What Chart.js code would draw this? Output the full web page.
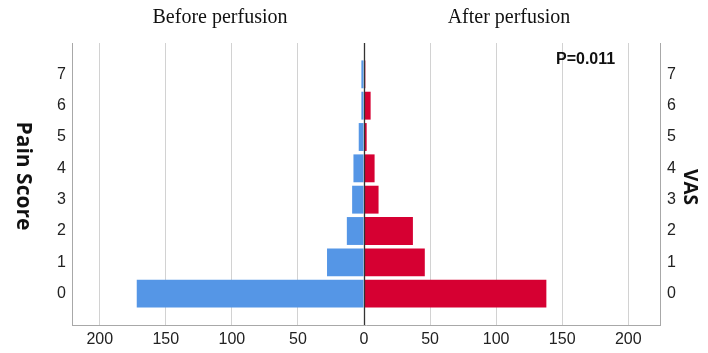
<!DOCTYPE html>
<html>
<head>
<meta charset="utf-8">
<script src="https://cdn.jsdelivr.net/npm/chart.js@4/dist/chart.umd.min.js"></script>
<style>
html,body{margin:0;padding:0;background:#fff;}
canvas{display:block;}
</style>
</head>
<body>
<canvas id="c" width="708" height="353"></canvas>
<script>
// Data (pain score 0..7)
const painScores = ['0','1','2','3','4','5','6','7'];
const beforeCounts = [172, 28, 13, 9, 8, 4, 2, 2];
const afterCounts = [138, 46, 37, 11, 8, 2, 5, 1];
const xTickValues = [-200, -150, -100, -50, 0, 50, 100, 150, 200];
const leftTitle = 'Before perfusion';
const rightTitle = 'After perfusion';
const pText = 'P=0.011';
const yTitleLeft = 'Pain Score';
const yTitleRight = 'VAS';

// rows from top to bottom, with an empty slot above and below
const rowLabels = ['', ...painScores.slice().reverse(), ''];
const beforeRows = [null, ...beforeCounts.slice().reverse().map(v => -v), null];
const afterRows = [null, ...afterCounts.slice().reverse(), null];

const textPlugin = {
  id: 'texts',
  afterDatasetsDraw(chart) {
    const ctx = chart.ctx;
    const area = chart.chartArea;
    const x0 = chart.scales.x.getPixelForValue(0);
    ctx.save();
    ctx.strokeStyle = '#333';
    ctx.lineWidth = 1.3;
    ctx.beginPath();
    ctx.moveTo(Math.round(x0) + 0.5, area.top);
    ctx.lineTo(Math.round(x0) + 0.5, area.bottom);
    ctx.stroke();
    ctx.restore();
  },
  afterDraw(chart) {
    const ctx = chart.ctx;
    ctx.save();
    ctx.fillStyle = '#111';
    ctx.font = '20px "Liberation Serif", "Times New Roman", serif';
    ctx.textAlign = 'center';
    ctx.textBaseline = 'alphabetic';
    ctx.fillText(leftTitle, 220, 23);
    ctx.fillText(rightTitle, 509, 23);

    ctx.font = 'bold 16px "Liberation Sans", Arial, sans-serif';
    ctx.textAlign = 'left';
    ctx.fillText(pText, 556, 64);

    ctx.textAlign = 'center';
    ctx.textBaseline = 'middle';
    ctx.save();
    ctx.font = 'bold 21px "Open Sans", sans-serif';
    ctx.translate(23, 176);
    ctx.rotate(Math.PI / 2);
    ctx.fillText(yTitleLeft, 0, 0);
    ctx.restore();
    ctx.save();
    ctx.font = 'bold 19px "Open Sans", sans-serif';
    ctx.translate(689, 187);
    ctx.rotate(Math.PI / 2);
    ctx.fillText(yTitleRight, 0, 0);
    ctx.restore();
    ctx.restore();
  }
};

const tickFont = {family: '"Liberation Sans", Arial, sans-serif', size: 16};

new Chart(document.getElementById('c'), {
  type: 'bar',
  data: {
    labels: rowLabels,
    datasets: [
      {label: 'Before', data: beforeRows, backgroundColor: '#5596E6', borderWidth: 0,
       barPercentage: 0.89, categoryPercentage: 1.0},
      {label: 'After', data: afterRows, backgroundColor: '#D60032', borderWidth: 0,
       barPercentage: 0.89, categoryPercentage: 1.0}
    ]
  },
  options: {
    indexAxis: 'y',
    responsive: false,
    animation: false,
    layout: {padding: {top: 43, left: 0, right: 0, bottom: 0}},
    plugins: {legend: {display: false}, tooltip: {enabled: false}, title: {display: false}},
    scales: {
      x: {
        type: 'linear',
        stacked: true,
        min: -221,
        max: 224,
        afterBuildTicks(scale) { scale.ticks = xTickValues.map(v => ({value: v})); },
        afterFit(scale) { scale.height = 28; },
        grid: {display: true, color: '#d2d2d2', lineWidth: 1, drawTicks: false},
        border: {display: true, color: '#a8a8a8', width: 1},
        ticks: {padding: 5, color: '#222', font: tickFont, callback: v => String(Math.abs(v)), maxRotation: 0}
      },
      y: {
        type: 'category',
        stacked: true,
        position: 'left',
        offset: false,
        afterFit(scale) { scale.width = 72; },
        grid: {display: false, drawTicks: false},
        border: {display: true, color: '#a8a8a8', width: 1},
        ticks: {padding: 6, color: '#222', font: tickFont, autoSkip: false}
      },
      y2: {
        type: 'category',
        position: 'right',
        labels: rowLabels,
        offset: false,
        afterFit(scale) { scale.width = 48; },
        grid: {display: false, drawTicks: false},
        border: {display: true, color: '#a8a8a8', width: 1},
        ticks: {padding: 7, color: '#222', font: tickFont, autoSkip: false}
      }
    }
  },
  plugins: [textPlugin]
});
</script>
</body>
</html>
